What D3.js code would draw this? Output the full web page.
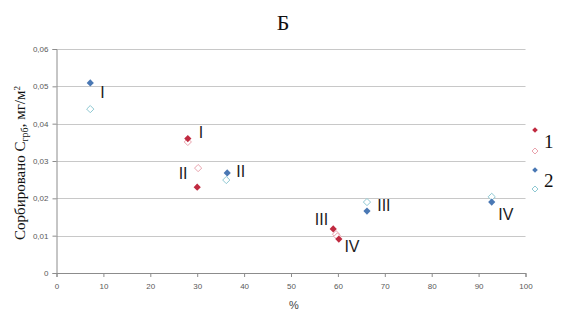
<!DOCTYPE html>
<html><head><meta charset="utf-8">
<script src="https://cdn.jsdelivr.net/npm/d3@7"></script>
<style>body{margin:0;background:#fff}svg{display:block}</style>
</head><body>
<svg id="c" width="563" height="320"></svg>
<script>
const xTicks = [0,10,20,30,40,50,60,70,80,90,100];
const yTicks = [0,0.01,0.02,0.03,0.04,0.05,0.06];
// series 1 (red) filled / open ; series 2 (blue) filled / open
const redFilled = [[28,0.036],[30,0.023],[59,0.0118],[60.2,0.0091]];
const redOpen   = [[28,0.0351],[30.2,0.0281],[59.6,0.0104],[59.9,0.0098]];
const blueFilled= [[7.2,0.0509],[36.4,0.0268],[66.2,0.0166],[92.8,0.019]];
const blueOpen  = [[7.2,0.0439],[36.2,0.0249],[66.2,0.019],[92.8,0.0204]];
const pointLabels = [
  {t:"I", x:9.8, y:0.0468},
  {t:"I", x:30.8, y:0.0361},
  {t:"II", x:27, y:0.0251},
  {t:"II", x:39.3, y:0.0258},
  {t:"III", x:56.5, y:0.0128},
  {t:"III", x:69.8, y:0.0165},
  {t:"IV", x:63, y:0.0055},
  {t:"IV", x:95.8, y:0.0142}
];
const legendItems = ["1","2"];

const svg = d3.select("#c");
const x = d3.scaleLinear().domain([0,100]).range([56.5,525.5]);
const y = d3.scaleLinear().domain([0,0.06]).range([273,49]);

// grid
svg.append("g").selectAll("line").data(yTicks.filter(d=>d>0)).join("line")
  .attr("x1",x(0)).attr("x2",x(100)).attr("y1",d=>Math.round(y(d))+0.5).attr("y2",d=>Math.round(y(d))+0.5)
  .attr("stroke","#c8c8c8").attr("stroke-width",1.2);

// axes
const fmt = d => d===0 ? "0" : d3.format(".2f")(d).replace(".",",");
const ya = svg.append("g").attr("transform",`translate(${x(0)},0)`)
  .call(d3.axisLeft(y).tickValues(yTicks).tickFormat(fmt).tickSize(4).tickPadding(4));
const xa = svg.append("g").attr("transform",`translate(0,${y(0)})`)
  .call(d3.axisBottom(x).tickValues(xTicks).tickSize(4).tickPadding(6));
[ya,xa].forEach(a=>{
  a.select(".domain").attr("stroke","#8c8c8c");
  a.selectAll(".tick line").attr("stroke","#8c8c8c");
  a.selectAll("text").attr("fill","#595959").attr("font-family","Liberation Sans, Arial, sans-serif").attr("font-size","8px");
});

// markers: square diamond
const dia = r => `M0,${-r}L${r},0L0,${r}L${-r},0Z`;
function pts(data, fill, stroke, r){
  svg.append("g").selectAll("path").data(data).join("path")
    .attr("d", dia(r))
    .attr("transform", d=>`translate(${x(d[0])},${y(d[1])})`)
    .attr("fill", fill).attr("stroke", stroke).attr("stroke-width", stroke==="none"?0:1);
}
pts(blueOpen, "#fff", "#8ec8d2", 3.6);
pts(redOpen, "#fff", "#e9a3ad", 3.6);
pts(blueFilled, "#4a78b4", "none", 3.6);
pts(redFilled, "#c02a40", "none", 3.6);

// roman labels
svg.append("g").selectAll("text").data(pointLabels).join("text")
  .attr("x", d=>x(d.x)).attr("y", d=>y(d.y))
  .attr("font-family","Liberation Sans, Arial, sans-serif").attr("font-size","16px").attr("fill","#222")
  .attr("text-anchor","middle").text(d=>d.t);

// legend
const lg = svg.append("g");
const ly = [[130,151],[170,189]];
legendItems.forEach((t,i)=>{
  lg.append("path").attr("d",dia(2.8)).attr("transform",`translate(535,${ly[i][0]})`)
    .attr("fill", i===0?"#c02a40":"#4a78b4");
  lg.append("path").attr("d",dia(3)).attr("transform",`translate(535,${ly[i][1]})`)
    .attr("fill","#fff").attr("stroke", i===0?"#e9a3ad":"#8ec8d2").attr("stroke-width",1);
  lg.append("text").attr("x",544).attr("y",(ly[i][0]+ly[i][1])/2+7)
    .attr("font-family","Liberation Serif, Times New Roman, serif").attr("font-size","19px").attr("fill","#111").text(t);
});

// title
svg.append("text").attr("x",283).attr("y",30).attr("text-anchor","middle")
  .attr("font-family","Liberation Serif, Times New Roman, serif").attr("font-size","22px").attr("fill","#111").text("Б");

// x title
svg.append("text").attr("x",294).attr("y",309).attr("text-anchor","middle")
  .attr("font-family","Liberation Sans, Arial, sans-serif").attr("font-size","11px").attr("fill","#444").text("%");

// y title
const yt = svg.append("text").attr("transform","translate(25,163) rotate(-90)").attr("text-anchor","middle")
  .attr("font-family","Liberation Serif, Times New Roman, serif").attr("font-size","15px").attr("fill","#111");
yt.append("tspan").text("Сорбировано С");
yt.append("tspan").attr("font-size","10px").attr("dy",3).text("грб");
yt.append("tspan").attr("dy",-3).text(", мг/м");
yt.append("tspan").attr("font-size","9px").attr("dy",-5).text("2");
</script>
</body></html>
